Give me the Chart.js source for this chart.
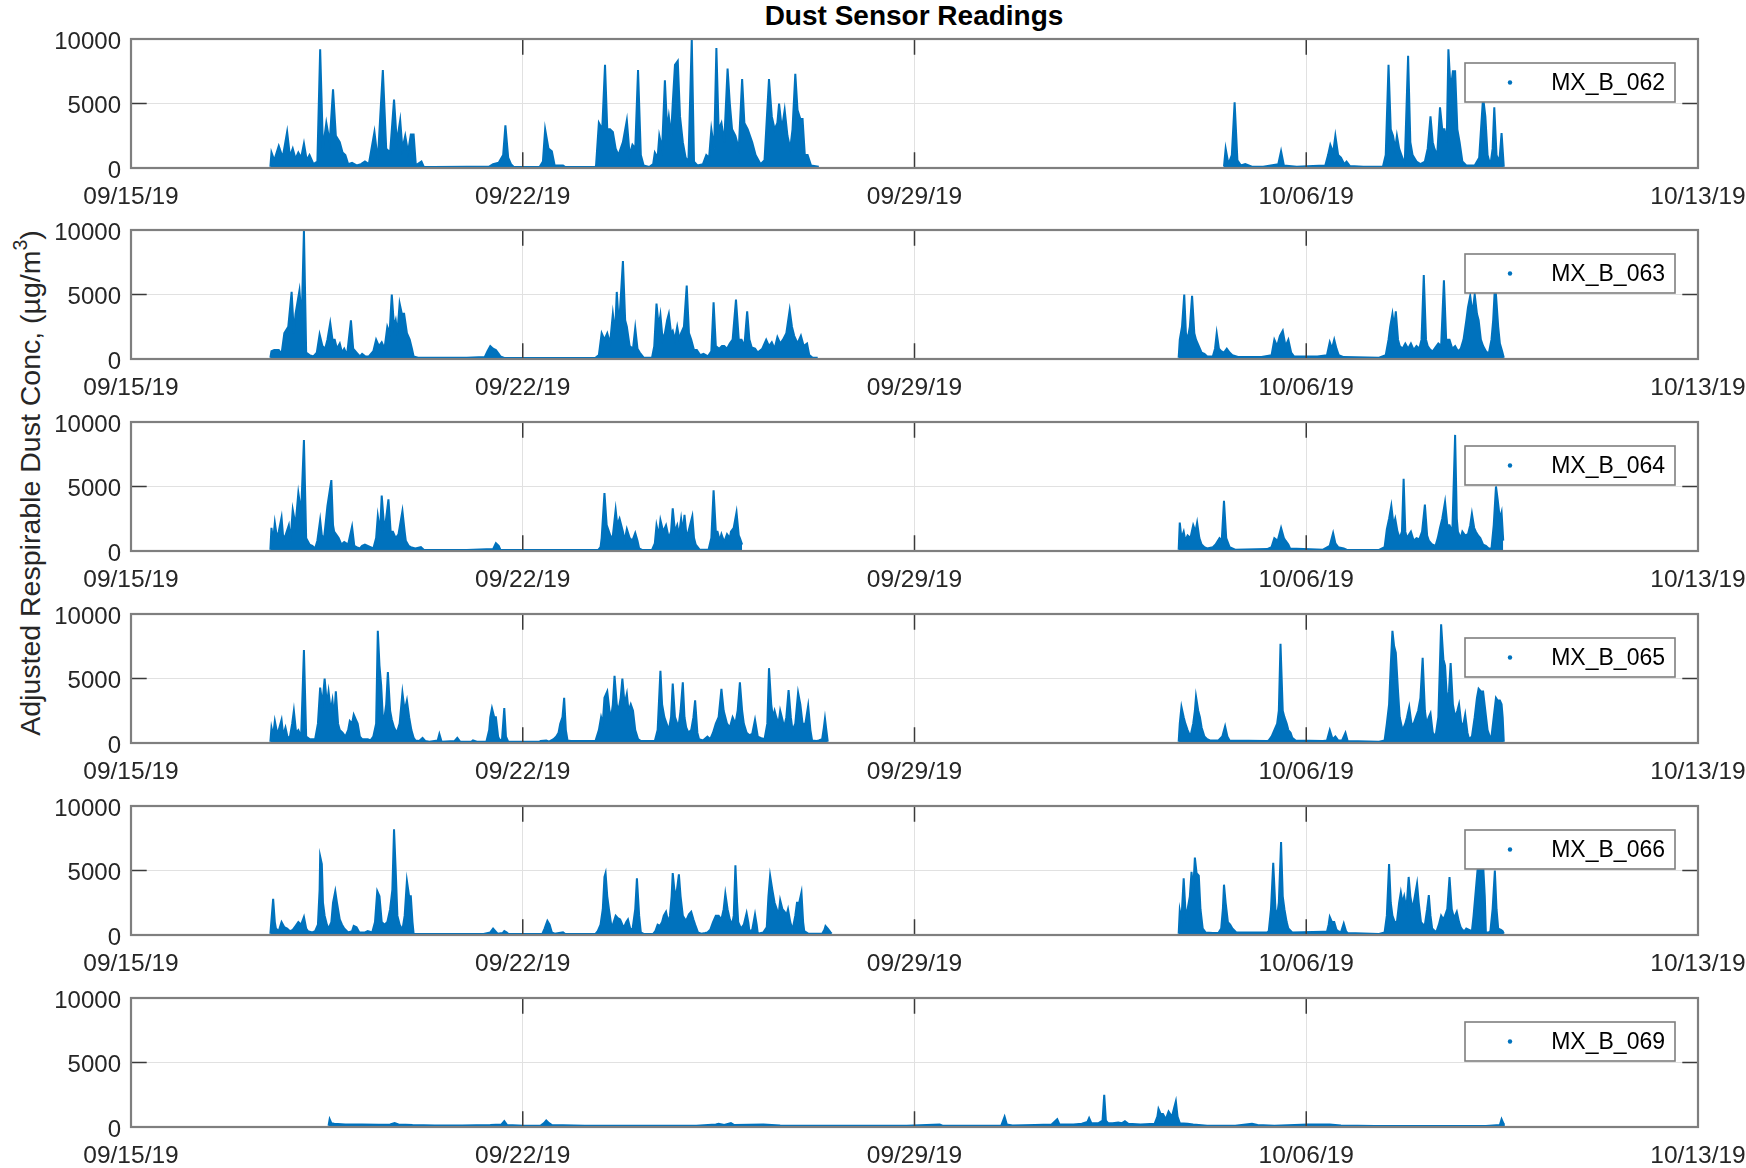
<!DOCTYPE html>
<html>
<head>
<meta charset="utf-8">
<title>Dust Sensor Readings</title>
<script src="https://cdn.jsdelivr.net/npm/chart.js@4.4.1/dist/chart.umd.min.js"></script>
<style>
html,body{margin:0;padding:0;background:#fff;}
body{width:1746px;height:1168px;position:relative;overflow:hidden;font-family:"Liberation Sans",Arial,Helvetica,sans-serif;}
.cw{position:absolute;left:0;width:1746px;height:199px;}
.cw canvas{display:block;}
#title{position:absolute;left:914px;top:2px;transform:translateX(-50%);font-weight:bold;font-size:28px;line-height:28px;color:#000;white-space:nowrap;}
#ylab{position:absolute;left:30px;top:483px;transform:translate(-50%,-50%) rotate(-90deg);font-size:28.5px;line-height:33px;color:#262626;white-space:nowrap;}
#ylab sup{font-size:0.68em;line-height:0;position:relative;top:-0.15em;}
</style>
</head>
<body>
<div id="title">Dust Sensor Readings</div>
<div id="ylab">Adjusted Respirable Dust Conc, (µg/m<sup>3</sup>)</div>
<script>
// ---------- axis / legend text ----------
const xTickDays = [0, 7, 14, 21, 28];            // days since 09/15/19 00:00
const xTickLabels = ['09/15/19', '09/22/19', '09/29/19', '10/06/19', '10/13/19'];
const yTicks = [0, 5000, 10000];
const yTickLabels = ['0', '5000', '10000'];
const seriesNames = ['MX_B_062', 'MX_B_063', 'MX_B_064', 'MX_B_065', 'MX_B_066', 'MX_B_069'];

// ---------- readings: [day since 09/15/19, µg/m3] ----------
const s062a = [[2.49,100],[2.51,1200],[2.56,600],[2.64,1700],[2.71,800],[2.79,2800],[2.84,900],[2.89,1500],[2.94,700],[2.99,1200],[3.04,800],[3.09,1900],[3.14,600],[3.19,1000],[3.26,300],[3.33,500],[3.38,9200],[3.43,1500],[3.49,3500],[3.55,2000],[3.61,6100],[3.66,2500],[3.73,2000],[3.78,1200],[3.83,1000],[3.88,300],[3.95,400],[4.03,200],[4.11,300],[4.18,500],[4.25,300],[4.35,2800],[4.41,600],[4.50,7600],[4.56,1500],[4.63,1200],[4.70,5300],[4.75,2000],[4.81,3700],[4.85,1500],[4.90,2500],[4.95,1200],[5.00,2600],[5.05,2600],[5.09,200],[5.19,500],[5.23,100],[5.40,80],[6.00,100],[6.40,100],[6.47,300],[6.57,400],[6.65,1000],[6.69,3300],[6.74,800],[6.79,300],[6.84,80],[7.30,80],[7.36,500],[7.40,3000],[7.46,1500],[7.52,1300],[7.57,200],[7.72,200],[7.76,80],[8.30,80],[8.31,200],[8.36,3500],[8.42,3000],[8.47,8000],[8.51,3000],[8.56,3000],[8.61,2800],[8.66,1500],[8.71,1000],[8.79,2000],[8.86,3700],[8.91,1000],[8.96,1800],[9.01,1500],[9.06,7600],[9.11,1000],[9.16,200],[9.26,80],[9.33,300],[9.36,1200],[9.41,800],[9.44,2500],[9.49,1500],[9.54,6800],[9.58,3000],[9.61,4000],[9.65,2500],[9.68,5000],[9.72,8000],[9.77,8300],[9.81,4000],[9.86,2000],[9.91,800],[9.96,500],[10.02,10000],[10.06,500],[10.12,200],[10.22,300],[10.28,1000],[10.33,800],[10.37,3000],[10.42,1500],[10.46,9300],[10.50,3000],[10.55,3500],[10.60,2000],[10.66,7700],[10.70,5000],[10.74,3000],[10.80,2500],[10.86,1500],[10.92,6900],[10.96,3500],[11.02,3000],[11.10,2000],[11.16,1000],[11.25,300],[11.32,600],[11.40,6900],[11.45,4000],[11.50,3000],[11.55,3500],[11.58,5000],[11.63,3000],[11.68,4500],[11.73,2500],[11.78,1500],[11.82,3000],[11.87,7300],[11.91,4500],[11.96,3800],[12.00,3800],[12.04,1000],[12.09,1000],[12.15,200],[12.29,100]];
const s062b = [[19.53,100],[19.56,1500],[19.61,300],[19.67,1000],[19.72,5100],[19.77,600],[19.83,200],[19.91,300],[20.03,100],[20.23,100],[20.50,300],[20.55,1300],[20.60,200],[20.83,100],[21.12,150],[21.34,200],[21.39,1000],[21.43,1800],[21.48,1200],[21.52,2500],[21.57,1000],[21.62,800],[21.68,300],[21.72,500],[21.78,150],[22.02,100],[22.37,100],[22.42,1000],[22.47,8000],[22.51,3000],[22.55,2500],[22.59,1500],[22.62,2500],[22.66,1500],[22.70,1000],[22.76,300],[22.82,8700],[22.86,2000],[22.90,1000],[22.97,500],[23.04,300],[23.12,500],[23.17,1500],[23.22,4000],[23.26,2000],[23.29,1500],[23.34,1000],[23.39,4700],[23.43,3000],[23.47,3000],[23.51,2000],[23.54,9200],[23.58,6000],[23.62,7500],[23.66,7500],[23.70,3000],[23.74,2000],[23.79,500],[23.86,200],[24.01,200],[24.09,800],[24.13,3500],[24.16,5500],[24.20,4000],[24.24,1000],[24.29,200],[24.33,1500],[24.36,4700],[24.40,1000],[24.45,500],[24.49,2700],[24.53,100]];

const s063a = [[2.49,100],[2.51,600],[2.56,700],[2.64,700],[2.69,400],[2.74,2000],[2.81,2500],[2.87,5200],[2.91,2000],[2.94,3500],[3.01,5300],[3.05,3000],[3.09,10000],[3.13,500],[3.19,300],[3.26,200],[3.32,500],[3.37,1900],[3.42,1000],[3.47,800],[3.51,1500],[3.56,2800],[3.60,1500],[3.64,1500],[3.68,800],[3.73,1200],[3.77,500],[3.81,800],[3.86,300],[3.93,3000],[3.97,800],[4.03,500],[4.09,200],[4.13,400],[4.19,200],[4.25,200],[4.33,600],[4.38,1500],[4.43,1000],[4.48,1300],[4.53,800],[4.58,2500],[4.62,2000],[4.66,5000],[4.70,2500],[4.73,3000],[4.76,2000],[4.80,4300],[4.84,3500],[4.88,3500],[4.93,2000],[4.98,1500],[5.02,800],[5.05,200],[5.13,100],[6.00,100],[6.32,150],[6.37,600],[6.42,1000],[6.47,800],[6.52,700],[6.57,400],[6.60,200],[6.67,80],[7.50,80],[8.30,100],[8.36,300],[8.41,2000],[8.46,1500],[8.51,2000],[8.56,1200],[8.61,3500],[8.65,2000],[8.68,5200],[8.72,2500],[8.79,7600],[8.83,3000],[8.86,2500],[8.91,1000],[8.97,800],[9.01,2400],[9.05,800],[9.09,500],[9.16,100],[9.31,100],[9.35,1000],[9.39,4300],[9.43,2500],[9.46,3400],[9.50,1500],[9.54,2000],[9.58,3000],[9.61,3500],[9.65,2000],[9.68,2200],[9.72,1500],[9.76,2500],[9.80,1500],[9.83,2000],[9.88,2500],[9.93,5700],[9.97,2000],[10.01,1500],[10.06,700],[10.11,700],[10.17,300],[10.23,400],[10.31,200],[10.37,600],[10.41,4400],[10.45,1000],[10.51,800],[10.56,1000],[10.60,1000],[10.65,800],[10.70,1200],[10.75,1500],[10.81,4600],[10.86,1500],[10.91,1500],[10.96,1000],[11.01,3700],[11.05,1500],[11.09,900],[11.15,800],[11.20,500],[11.28,800],[11.35,1500],[11.40,1000],[11.45,1300],[11.50,800],[11.55,1700],[11.60,1200],[11.65,1500],[11.71,2000],[11.77,3800],[11.81,2500],[11.85,1800],[11.91,1200],[11.97,1800],[12.02,1000],[12.08,1200],[12.12,300],[12.18,100],[12.27,100]];
const s063b = [[18.72,100],[18.74,1500],[18.78,2500],[18.82,5000],[18.85,2000],[18.88,1500],[18.92,2500],[18.96,4900],[19.00,2000],[19.03,1500],[19.08,1000],[19.13,500],[19.18,400],[19.23,200],[19.33,200],[19.37,800],[19.40,2000],[19.44,800],[19.48,600],[19.53,500],[19.58,800],[19.63,500],[19.68,300],[19.78,150],[20.20,150],[20.38,300],[20.43,1500],[20.48,1000],[20.53,1800],[20.58,2200],[20.63,1000],[20.68,1500],[20.73,500],[20.78,200],[21.20,200],[21.37,300],[21.42,1300],[21.46,800],[21.50,1500],[21.54,800],[21.58,300],[21.67,150],[22.30,100],[22.42,300],[22.47,1500],[22.50,2500],[22.54,3500],[22.57,2500],[22.60,3700],[22.64,1500],[22.67,1000],[22.72,800],[22.77,1200],[22.82,800],[22.87,1200],[22.92,700],[22.97,1000],[23.02,800],[23.06,1500],[23.10,6500],[23.14,1500],[23.17,1000],[23.22,700],[23.26,600],[23.31,900],[23.36,1200],[23.41,1000],[23.46,6100],[23.50,1500],[23.56,1500],[23.61,800],[23.66,1000],[23.71,600],[23.76,800],[23.81,1500],[23.86,3000],[23.89,4000],[23.93,4900],[23.97,3500],[24.01,5000],[24.05,3500],[24.08,3000],[24.12,1500],[24.16,1000],[24.21,600],[24.26,400],[24.31,1500],[24.34,3000],[24.37,5500],[24.39,5000],[24.43,2500],[24.46,1200],[24.50,600],[24.53,100]];

const s064a = [[2.49,100],[2.51,1800],[2.54,800],[2.57,2200],[2.61,1000],[2.64,1500],[2.69,2600],[2.72,1000],[2.76,1200],[2.82,2000],[2.85,800],[2.89,3200],[2.94,2000],[2.99,4500],[3.04,3000],[3.09,8600],[3.13,1000],[3.19,500],[3.24,400],[3.29,200],[3.33,800],[3.38,2400],[3.41,1200],[3.45,1000],[3.51,3500],[3.58,5500],[3.61,2000],[3.63,1500],[3.68,1200],[3.71,1000],[3.76,500],[3.81,700],[3.88,500],[3.95,1900],[3.99,400],[4.03,300],[4.09,200],[4.13,400],[4.18,500],[4.23,400],[4.28,300],[4.33,200],[4.38,1000],[4.41,2700],[4.45,1500],[4.48,4300],[4.53,1500],[4.60,4000],[4.64,1500],[4.68,1500],[4.73,1000],[4.78,1300],[4.85,3100],[4.89,1500],[4.91,800],[4.96,400],[5.00,300],[5.08,200],[5.18,300],[5.23,100],[6.00,80],[6.47,150],[6.52,600],[6.57,400],[6.60,100],[7.50,80],[8.35,80],[8.39,300],[8.41,1000],[8.46,4500],[8.50,2000],[8.54,1500],[8.58,1000],[8.61,1200],[8.66,3200],[8.69,2000],[8.73,2500],[8.79,1500],[8.82,800],[8.86,1700],[8.91,1000],[8.96,800],[9.01,1400],[9.05,800],[9.08,200],[9.13,80],[9.31,80],[9.36,600],[9.39,2000],[9.43,1200],[9.46,2400],[9.51,1500],[9.56,2000],[9.61,1000],[9.65,1500],[9.68,3300],[9.72,1500],[9.76,2000],[9.79,1200],[9.83,2500],[9.86,1500],[9.89,2800],[9.93,1000],[9.96,1500],[10.03,2700],[10.06,1000],[10.09,500],[10.16,100],[10.32,100],[10.37,1000],[10.41,4700],[10.45,1500],[10.48,1500],[10.52,800],[10.55,1300],[10.60,700],[10.65,1300],[10.70,1000],[10.72,1500],[10.77,1800],[10.82,3000],[10.86,1200],[10.88,1000],[10.92,500]];
const s064b = [[18.72,100],[18.74,2200],[18.77,1000],[18.81,1500],[18.84,800],[18.88,1200],[18.93,1000],[18.98,2000],[19.02,1500],[19.05,2200],[19.09,1000],[19.13,500],[19.18,300],[19.23,200],[19.33,300],[19.38,500],[19.45,1000],[19.49,800],[19.53,3900],[19.57,1000],[19.63,300],[19.73,100],[20.30,150],[20.38,300],[20.43,1000],[20.49,800],[20.55,1800],[20.60,1000],[20.63,800],[20.68,500],[20.71,200],[21.30,100],[21.42,400],[21.48,1400],[21.52,600],[21.57,300],[21.67,200],[21.72,100],[22.30,80],[22.40,300],[22.44,1700],[22.48,2500],[22.52,3500],[22.56,2000],[22.59,2500],[22.63,1500],[22.67,1000],[22.71,1500],[22.74,5600],[22.77,1500],[22.80,1000],[22.84,1300],[22.87,1500],[22.92,800],[22.97,1000],[23.02,900],[23.07,1500],[23.12,3600],[23.16,1200],[23.19,800],[23.25,500],[23.31,400],[23.35,1000],[23.39,1800],[23.43,2500],[23.48,3800],[23.52,2000],[23.56,2000],[23.61,1500],[23.66,9000],[23.69,2500],[23.71,1500],[23.76,1000],[23.79,1500],[23.84,1200],[23.89,1300],[23.93,2000],[23.96,2900],[24.00,1800],[24.03,1500],[24.07,1200],[24.11,1000],[24.16,500],[24.21,400],[24.26,200],[24.31,200],[24.35,2000],[24.39,5000],[24.42,4000],[24.46,2500],[24.49,3000],[24.52,800]];

const s065a = [[2.49,100],[2.51,1200],[2.54,600],[2.57,1700],[2.61,800],[2.64,1000],[2.69,1800],[2.72,600],[2.76,1200],[2.80,400],[2.84,500],[2.88,1500],[2.91,2500],[2.95,800],[2.99,1000],[3.04,500],[3.09,7200],[3.13,500],[3.19,300],[3.29,300],[3.34,1500],[3.38,4300],[3.42,3000],[3.46,5000],[3.50,3000],[3.53,4000],[3.57,2500],[3.60,3300],[3.63,2000],[3.66,4000],[3.70,1500],[3.73,1000],[3.78,800],[3.83,500],[3.88,1000],[3.91,1700],[3.95,1500],[3.98,2200],[4.02,1800],[4.05,1500],[4.09,500],[4.13,300],[4.23,300],[4.28,200],[4.33,500],[4.38,1500],[4.41,8700],[4.44,6000],[4.47,4500],[4.50,2000],[4.53,2000],[4.56,3000],[4.59,5500],[4.63,2500],[4.66,1800],[4.70,1200],[4.75,800],[4.80,1500],[4.85,3900],[4.89,2500],[4.93,3300],[4.97,2000],[5.01,1000],[5.05,400],[5.08,200],[5.15,150],[5.21,400],[5.26,150],[5.33,100],[5.48,200],[5.51,700],[5.55,100],[5.78,150],[5.83,400],[5.88,100],[6.08,100],[6.11,200],[6.18,100],[6.35,100],[6.40,1000],[6.42,2000],[6.45,2700],[6.49,2000],[6.52,2000],[6.56,500],[6.59,200],[6.63,300],[6.67,2700],[6.70,500],[6.74,100],[7.30,100],[7.32,150],[7.42,200],[7.47,100],[7.55,300],[7.60,500],[7.64,800],[7.67,1500],[7.71,2000],[7.74,3500],[7.77,1000],[7.80,200],[7.86,150],[8.30,150],[8.31,300],[8.36,1000],[8.40,2000],[8.43,1500],[8.46,3500],[8.51,4000],[8.55,2500],[8.58,2000],[8.61,3000],[8.64,5200],[8.68,3000],[8.71,2500],[8.75,3500],[8.78,5000],[8.82,3000],[8.86,3800],[8.89,2500],[8.93,3000],[8.97,2500],[9.01,1000],[9.06,300],[9.11,150],[9.36,150],[9.41,1000],[9.46,5600],[9.49,3000],[9.53,2000],[9.57,1500],[9.61,1000],[9.65,2000],[9.68,4600],[9.72,2000],[9.76,1500],[9.79,1500],[9.82,2500],[9.86,4700],[9.89,2000],[9.92,1200],[9.96,800],[10.01,1000],[10.05,2000],[10.08,3300],[10.12,800],[10.15,300],[10.22,200],[10.30,500],[10.35,300],[10.40,800],[10.45,1500],[10.50,2000],[10.55,4200],[10.59,2500],[10.65,1500],[10.70,1200],[10.75,2000],[10.80,1500],[10.84,2500],[10.88,4700],[10.92,2500],[10.95,1500],[11.00,800],[11.05,600],[11.10,700],[11.15,1800],[11.20,500],[11.25,400],[11.32,300],[11.37,1500],[11.40,5800],[11.44,3000],[11.47,2000],[11.50,2500],[11.53,2000],[11.57,1500],[11.60,2500],[11.64,1800],[11.67,1200],[11.71,2000],[11.75,4100],[11.79,2000],[11.82,1000],[11.87,1500],[11.92,3900],[11.96,3000],[12.00,1500],[12.05,1500],[12.10,2900],[12.14,1000],[12.17,200],[12.25,150],[12.29,200],[12.35,300],[12.38,1200],[12.40,1900],[12.43,800],[12.45,100]];
const s065b = [[18.72,100],[18.74,1500],[18.77,2800],[18.81,2000],[18.84,1500],[18.88,1000],[18.93,500],[18.98,1500],[19.01,2500],[19.03,3600],[19.07,2500],[19.10,2000],[19.13,1200],[19.18,500],[19.23,300],[19.28,200],[19.43,200],[19.50,500],[19.55,1300],[19.59,500],[19.63,200],[20.30,150],[20.33,200],[20.38,500],[20.43,1000],[20.48,1500],[20.51,2500],[20.54,7700],[20.58,2500],[20.61,2000],[20.65,1500],[20.68,1000],[20.72,800],[20.75,400],[20.81,200],[21.30,150],[21.37,200],[21.42,1000],[21.47,300],[21.52,500],[21.57,200],[21.64,200],[21.70,800],[21.74,150],[22.30,100],[22.40,200],[22.44,1500],[22.48,3000],[22.51,6000],[22.54,8700],[22.57,7500],[22.60,7000],[22.64,4000],[22.67,2000],[22.72,1000],[22.77,1500],[22.80,2000],[22.84,2800],[22.88,1500],[22.92,1500],[22.96,2000],[23.00,2500],[23.04,3500],[23.08,6600],[23.12,2500],[23.15,1500],[23.19,2000],[23.22,2300],[23.26,800],[23.31,500],[23.36,2000],[23.41,9200],[23.45,6500],[23.48,6000],[23.52,3000],[23.55,4000],[23.58,6200],[23.62,3000],[23.66,2000],[23.70,2500],[23.73,3000],[23.77,1500],[23.81,1500],[23.84,2200],[23.88,800],[23.91,300],[23.96,500],[24.01,2000],[24.05,3500],[24.08,4200],[24.12,4000],[24.16,4000],[24.20,2500],[24.24,1000],[24.28,500],[24.31,500],[24.35,2000],[24.39,3500],[24.42,3300],[24.46,3300],[24.49,3000],[24.51,2000],[24.53,100]];

const s066a = [[2.49,100],[2.54,2800],[2.57,1000],[2.59,500],[2.64,300],[2.69,1000],[2.74,600],[2.79,500],[2.84,300],[2.89,400],[2.94,700],[2.99,1000],[3.04,800],[3.09,1400],[3.13,500],[3.16,300],[3.24,200],[3.29,300],[3.34,800],[3.37,3500],[3.38,6100],[3.41,5500],[3.43,2500],[3.46,1500],[3.50,800],[3.53,500],[3.58,1000],[3.61,2500],[3.65,3400],[3.68,2500],[3.73,1200],[3.77,800],[3.81,500],[3.88,200],[3.95,300],[3.98,700],[4.03,600],[4.08,200],[4.18,200],[4.23,300],[4.31,200],[4.36,1000],[4.40,3400],[4.44,3000],[4.48,1000],[4.53,800],[4.58,1000],[4.63,2000],[4.67,3500],[4.70,8200],[4.73,5000],[4.76,1500],[4.80,800],[4.85,400],[4.89,1500],[4.93,4200],[4.97,3000],[5.00,3000],[5.03,1000],[5.05,100],[6.30,80],[6.42,200],[6.47,500],[6.51,300],[6.55,100],[6.64,150],[6.67,300],[6.71,200],[6.74,100],[7.35,80],[7.39,500],[7.44,1100],[7.48,800],[7.52,200],[7.57,100],[7.72,200],[7.76,80],[8.30,80],[8.34,300],[8.39,800],[8.43,2000],[8.46,4500],[8.48,4800],[8.51,3000],[8.54,2000],[8.58,800],[8.61,800],[8.66,1500],[8.70,1300],[8.74,1200],[8.78,800],[8.81,600],[8.85,1000],[8.88,1200],[8.92,500],[8.96,400],[9.01,2000],[9.04,4400],[9.08,1500],[9.11,200],[9.16,80],[9.33,80],[9.37,300],[9.41,800],[9.45,700],[9.49,1000],[9.52,1500],[9.56,1800],[9.60,1000],[9.63,1500],[9.66,3000],[9.68,4800],[9.71,3500],[9.74,3000],[9.77,4000],[9.79,4700],[9.82,3000],[9.86,1500],[9.90,1200],[9.93,1200],[9.97,1600],[10.01,1800],[10.05,1200],[10.08,800],[10.13,200],[10.19,100],[10.26,150],[10.30,200],[10.35,400],[10.40,1000],[10.45,1500],[10.50,1500],[10.55,1200],[10.59,2000],[10.62,3200],[10.66,2000],[10.70,1200],[10.74,800],[10.77,1500],[10.80,5400],[10.83,2500],[10.85,1000],[10.90,500],[10.95,800],[11.00,1700],[11.03,1000],[11.05,300],[11.10,400],[11.15,1600],[11.18,800],[11.20,100],[11.30,200],[11.36,600],[11.39,3000],[11.42,4600],[11.46,3500],[11.50,2500],[11.54,2000],[11.57,1500],[11.60,2700],[11.64,2000],[11.68,1800],[11.71,1500],[11.74,2000],[11.78,1000],[11.82,400],[11.87,1500],[11.90,2500],[11.94,2500],[11.98,3300],[12.01,1000],[12.03,300],[12.10,100],[12.35,100],[12.39,400],[12.41,700],[12.45,500],[12.50,200],[12.52,100]];
const s066b = [[18.72,100],[18.74,1900],[18.77,1200],[18.81,4400],[18.84,2000],[18.86,1000],[18.88,2000],[18.92,3000],[18.95,4900],[18.98,3500],[19.01,6000],[19.04,4800],[19.08,4600],[19.11,2000],[19.15,500],[19.20,200],[19.33,150],[19.43,150],[19.48,500],[19.51,2000],[19.53,3900],[19.56,2500],[19.60,1000],[19.64,800],[19.68,500],[19.75,200],[20.30,200],[20.33,300],[20.37,2000],[20.41,5600],[20.45,2000],[20.48,1500],[20.51,2500],[20.55,7200],[20.58,3000],[20.61,2000],[20.65,1000],[20.68,500],[20.75,200],[21.30,250],[21.37,250],[21.40,800],[21.42,1400],[21.46,1000],[21.50,1000],[21.54,400],[21.57,300],[21.62,200],[21.67,900],[21.71,300],[21.74,150],[22.30,80],[22.40,200],[22.44,1500],[22.48,5500],[22.51,2500],[22.54,1500],[22.58,1000],[22.62,1000],[22.66,2500],[22.69,3300],[22.72,2500],[22.75,3000],[22.79,2000],[22.83,4500],[22.86,3000],[22.90,2000],[22.94,3000],[22.98,4000],[23.01,2500],[23.05,1000],[23.09,800],[23.12,800],[23.16,2000],[23.19,3100],[23.22,1500],[23.25,500],[23.30,300],[23.33,300],[23.37,800],[23.41,1500],[23.45,1200],[23.48,1500],[23.52,2000],[23.56,4500],[23.60,2000],[23.63,1500],[23.66,1500],[23.69,1800],[23.73,1000],[23.76,600],[23.79,400],[23.83,300],[23.86,500],[23.91,400],[23.96,300],[23.99,1500],[24.03,3500],[24.06,5000],[24.09,5500],[24.12,5000],[24.16,5500],[24.19,3000],[24.21,200],[24.26,200],[24.29,300],[24.33,2000],[24.37,5000],[24.40,2000],[24.43,500],[24.48,400],[24.51,300],[24.53,100]];

const s069a = [[3.53,100],[3.55,600],[3.58,300],[3.63,250],[3.83,200],[4.13,200],[4.43,180],[4.63,200],[4.71,300],[4.78,200],[5.03,150],[5.43,120],[5.92,120],[6.42,150],[6.62,200],[6.67,450],[6.72,150],[7.02,100],[7.32,120],[7.38,300],[7.42,500],[7.47,300],[7.52,150],[8.11,100],[9.11,100],[10.10,100],[10.45,200],[10.50,250],[10.60,150],[10.72,300],[10.78,150],[11.30,200],[11.60,120],[12.39,100],[13.27,100],[13.86,100],[14.45,200],[14.50,100],[15.05,100],[15.55,100],[15.61,800],[15.65,200],[15.75,120],[16.15,150],[16.45,200],[16.55,600],[16.59,200],[16.84,200],[16.99,250],[17.09,400],[17.12,700],[17.16,300],[17.29,300],[17.36,500],[17.39,2500],[17.42,500],[17.46,300],[17.54,300],[17.64,350],[17.71,300],[17.76,450],[17.82,250],[18.04,200],[18.29,250],[18.34,800],[18.36,1400],[18.40,1000],[18.44,1000],[18.49,600],[18.54,1200],[18.60,800],[18.64,1500],[18.67,2000],[18.70,800],[18.74,300],[18.88,250],[18.98,200],[19.23,100],[19.73,100],[20.03,250],[20.13,150],[20.43,100],[21.03,200],[21.42,200],[21.62,120],[22.22,80],[23.21,80],[24.21,80],[24.46,150],[24.49,600],[24.52,300],[24.53,100]];

const seriesSegments = [
  [s062a, s062b],
  [s063a, s063b],
  [s064a, s064b],
  [s065a, s065b],
  [s066a, s066b],
  [s069a]
];

// ---------- styling ----------
const BLUE = '#0072BD';
const TXT = '#262626';
const GRID = '#e1e1e1';
const BOX = '#7f7f7f';
const TICKC = '#3a3a3a';
const FONT = '"Liberation Sans", Arial, Helvetica, sans-serif';

function toPoints(segs) {
  const out = [];
  segs.forEach((seg, k) => {
    if (k > 0) out.push({ x: (segs[k - 1][segs[k - 1].length - 1][0] + seg[0][0]) / 2, y: null });
    seg.forEach(p => out.push({ x: p[0], y: p[1] }));
  });
  return out;
}

const boxPlugin = {
  id: 'matlabBox',
  afterDraw(chart, args, opts) {
    const { ctx, chartArea: a, scales } = chart;
    const tl = 15.7;
    ctx.save();
    // inner tick marks
    ctx.strokeStyle = TICKC;
    ctx.lineWidth = 1.5;
    ctx.beginPath();
    xTickDays.forEach(d => {
      const px = scales.x.getPixelForValue(d);
      ctx.moveTo(px, a.top); ctx.lineTo(px, a.top + tl);
      ctx.moveTo(px, a.bottom); ctx.lineTo(px, a.bottom - tl);
    });
    yTicks.forEach(v => {
      const py = scales.y.getPixelForValue(v);
      ctx.moveTo(a.left, py); ctx.lineTo(a.left + tl, py);
      ctx.moveTo(a.right, py); ctx.lineTo(a.right - tl, py);
    });
    ctx.stroke();
    // axes box
    ctx.strokeStyle = BOX;
    ctx.lineWidth = 2.2;
    ctx.strokeRect(a.left, a.top, a.right - a.left, a.bottom - a.top);
    // legend
    const name = opts.name;
    const bw = 210, bh = 39;
    const bx = a.right - 23 - bw, by = a.top + 24;
    ctx.fillStyle = '#ffffff';
    ctx.fillRect(bx, by, bw, bh);
    ctx.strokeStyle = BOX;
    ctx.lineWidth = 1.6;
    ctx.strokeRect(bx, by, bw, bh);
    ctx.fillStyle = BLUE;
    ctx.beginPath();
    ctx.arc(a.right - 188, by + bh / 2, 2.2, 0, Math.PI * 2);
    ctx.fill();
    ctx.fillStyle = '#000';
    ctx.font = '23px ' + FONT;
    ctx.textAlign = 'right';
    ctx.textBaseline = 'middle';
    ctx.fillText(name, bx + bw - 10, by + bh / 2 + 1);
    ctx.restore();
  }
};

const container = document.body;
seriesSegments.forEach((segs, i) => {
  const plotTop = Math.round(38.5 + 191.9 * i);
  const wrap = document.createElement('div');
  wrap.className = 'cw';
  wrap.style.top = (plotTop - 25) + 'px';
  const cv = document.createElement('canvas');
  cv.width = 1746; cv.height = 199;
  cv.style.width = '1746px'; cv.style.height = '199px';
  wrap.appendChild(cv);
  container.appendChild(wrap);

  new Chart(cv, {
    type: 'line',
    data: {
      datasets: [{
        label: seriesNames[i],
        data: toPoints(segs),
        borderColor: BLUE,
        backgroundColor: BLUE,
        borderWidth: 2,
        pointRadius: 0,
        tension: 0,
        fill: 'origin',
        spanGaps: false
      }]
    },
    options: {
      responsive: false,
      animation: false,
      events: [],
      layout: { padding: { top: 25, right: 48, left: 0, bottom: 0 } },
      plugins: {
        legend: { display: false },
        tooltip: { enabled: false },
        matlabBox: { name: seriesNames[i] }
      },
      scales: {
        x: {
          type: 'linear',
          min: 0, max: 28,
          afterBuildTicks: s => { s.ticks = xTickDays.map(v => ({ value: v })); },
          afterFit: s => { s.height = 45; s.paddingLeft = 0; s.paddingRight = 0; },
          ticks: {
            callback: (v, idx) => xTickLabels[idx],
            color: TXT,
            font: { family: FONT, size: 24.5 },
            padding: 15,
            maxRotation: 0,
            autoSkip: false
          },
          grid: { color: GRID, lineWidth: 1, drawTicks: false },
          border: { display: false }
        },
        y: {
          min: 0, max: 10000,
          afterBuildTicks: s => { s.ticks = yTicks.map(v => ({ value: v })); },
          afterFit: s => { s.width = 131; s.paddingTop = 0; s.paddingBottom = 0; },
          ticks: {
            callback: (v, idx) => yTickLabels[idx],
            color: TXT,
            font: { family: FONT, size: 24 },
            padding: 10,
            labelOffset: 3
          },
          grid: { color: GRID, lineWidth: 1, drawTicks: false },
          border: { display: false }
        }
      }
    },
    plugins: [boxPlugin]
  });
});
</script>
</body>
</html>
